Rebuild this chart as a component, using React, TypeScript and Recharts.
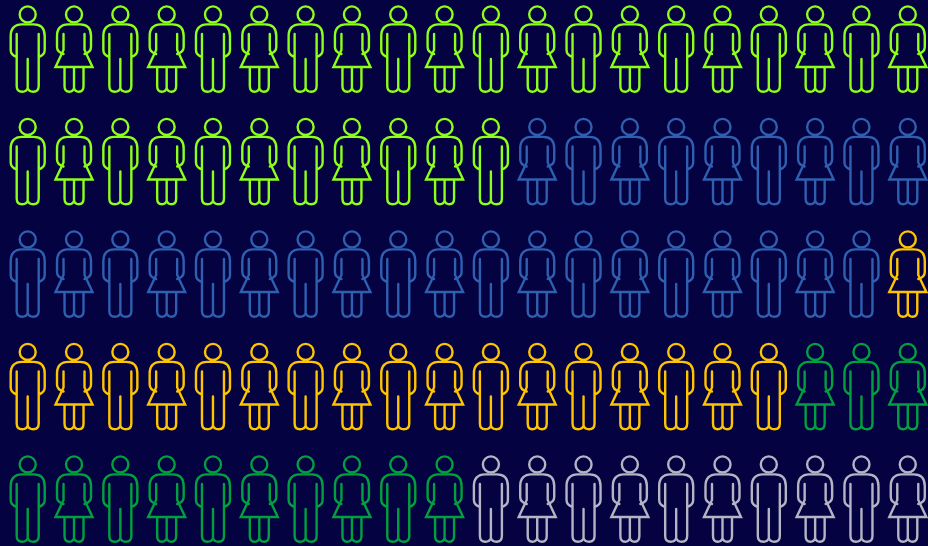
import React from "react";
import { ScatterChart, Scatter, XAxis, YAxis } from "recharts";

const groupCounts = [31, 28, 18, 13, 10];
const groupColors = ["#8cff1a", "#2f5fb0", "#ffc400", "#00a040", "#b4b4c4"];
const columnCount = 20;

const SHOULDERS = "L-17,36 C-17,28.5 -13,24.4 -6,24.4 L6,24.4 C13,24.4 17,28.5 17,36 ";
const MAN =
  "M-11,57 C-14,56 -17,54 -17,50 " + SHOULDERS + "L17,50 C17,54 14,56 11,57 " +
  "M-11,34 L-11,86 Q-11,91.7 -5.5,91.7 Q-1,91.7 0,88 Q1,91.7 5.5,91.7 Q11,91.7 11,86 L11,34 M0,59 L0,88";
const WOMAN =
  "M-10.5,54 C-14,53 -17,51 -17,47 " + SHOULDERS + "L17,47 C17,51 14,53 10.5,54 " +
  "M-10.5,34 L-10.5,50 M10.5,34 L10.5,50 " +
  "M-10.5,50 L-18.5,67 L18.5,67 L10.5,50 " +
  "M-9.5,67 L-9.5,86 Q-9.5,91.7 -4.7,91.7 Q-1,91.7 0,88 Q1,91.7 4.7,91.7 Q9.5,91.7 9.5,86 L9.5,67 M0,67 L0,88";

type Person = { col: number; row: number; group: number; female: boolean };

const people: Person[] = [];
{
  let index = 0;
  groupCounts.forEach((count, group) => {
    for (let k = 0; k < count; k++) {
      const row = Math.floor(index / columnCount);
      const col = index % columnCount;
      people.push({ col, row, group, female: col % 2 === 1 });
      index++;
    }
  });
}

const Figure = (props: any) => {
  const { cx, cy, payload } = props;
  const color = groupColors[payload.group];
  return (
    <g transform={`translate(${cx},${cy - 49})`} fill="none" stroke={color} strokeWidth={2.4} strokeLinecap="round" strokeLinejoin="miter">
      <circle cx={0} cy={14.4} r={8} />
      <path d={payload.female ? WOMAN : MAN} />
    </g>
  );
};

export default function App() {
  const pitchX = 46.32;
  const pitchY = 112.5;
  return (
    <div style={{ position: "absolute", left: 0, top: 0, width: 928, height: 546, background: "#040240", overflow: "hidden" }}>
      <ScatterChart width={928} height={546} margin={{ top: 0, right: 0, bottom: 0, left: 0 }}>
        <XAxis type="number" dataKey="col" hide domain={[-27.7 / pitchX, (928 - 27.7) / pitchX]} allowDataOverflow />
        <YAxis type="number" dataKey="row" hide reversed domain={[-49 / pitchY, (546 - 49) / pitchY]} allowDataOverflow />
        <Scatter data={people} shape={Figure} isAnimationActive={false} />
      </ScatterChart>
    </div>
  );
}
